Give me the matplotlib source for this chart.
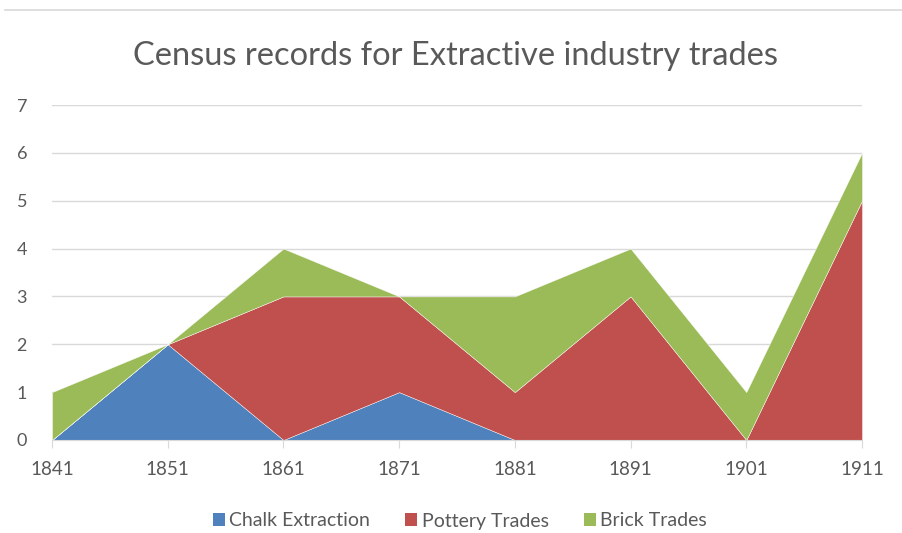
import matplotlib

matplotlib.use("Agg")

import matplotlib.pyplot as plt
from matplotlib.lines import Line2D
from matplotlib.patches import Patch
import numpy as np

years = ["1841", "1851", "1861", "1871", "1881", "1891", "1901", "1911"]
chalk = [0, 2, 0, 1, 0, 0, 0, 0]
pottery = [0, 0, 3, 2, 1, 3, 0, 5]
brick = [1, 0, 1, 0, 2, 1, 1, 1]

series = ["Chalk Extraction", "Pottery Trades", "Brick Trades"]
colors = ["#4F81BD", "#C0504D", "#9BBB59"]

plt.rcParams["font.family"] = ["Lato", "DejaVu Sans"]

fig = plt.figure(figsize=(9.02, 5.33), dpi=100)
ax = fig.add_axes([52 / 902, 1 - 440 / 533, 810 / 902, 335 / 533])

x = np.arange(len(years))
ax.stackplot(x, chalk, pottery, brick, colors=colors, edgecolor="white", linewidth=0.3, zorder=2)

ax.set_xlim(0, len(years) - 1)
ax.set_ylim(0, 7)
ax.set_yticks(range(0, 8))
ax.set_xticks(x)
ax.set_xticklabels(years)
ax.grid(axis="y", color="#D9D9D9", linewidth=1, zorder=0)
ax.set_axisbelow(True)
for s in ["top", "right", "left"]:
    ax.spines[s].set_visible(False)
ax.spines["bottom"].set_color("#D9D9D9")
ax.spines["bottom"].set_zorder(3)
ax.tick_params(axis="y", length=0, pad=18, labelsize=13, labelcolor="#595959")
ax.tick_params(axis="x", length=6, color="#D9D9D9", pad=9, labelsize=13.5, labelcolor="#595959")

fig.text(0.505, 1 - 56 / 533, "Census records for Extractive industry trades",
         ha="center", va="center", fontsize=23.5, color="#595959")

fig.add_artist(Line2D([5 / 902, 1], [1 - 10 / 533] * 2, color="#D9D9D9", linewidth=1.2))

handles = [Patch(facecolor=c, label=n) for c, n in zip(colors, series)]
fig.legend(handles=handles, loc="center", bbox_to_anchor=(0.51, 1 - 521 / 533), ncol=3,
           frameon=False, fontsize=14, handlelength=0.6, handleheight=0.6,
           handletextpad=0.25, columnspacing=1.8, labelcolor="#595959")

fig.savefig("out.png", dpi=100)
